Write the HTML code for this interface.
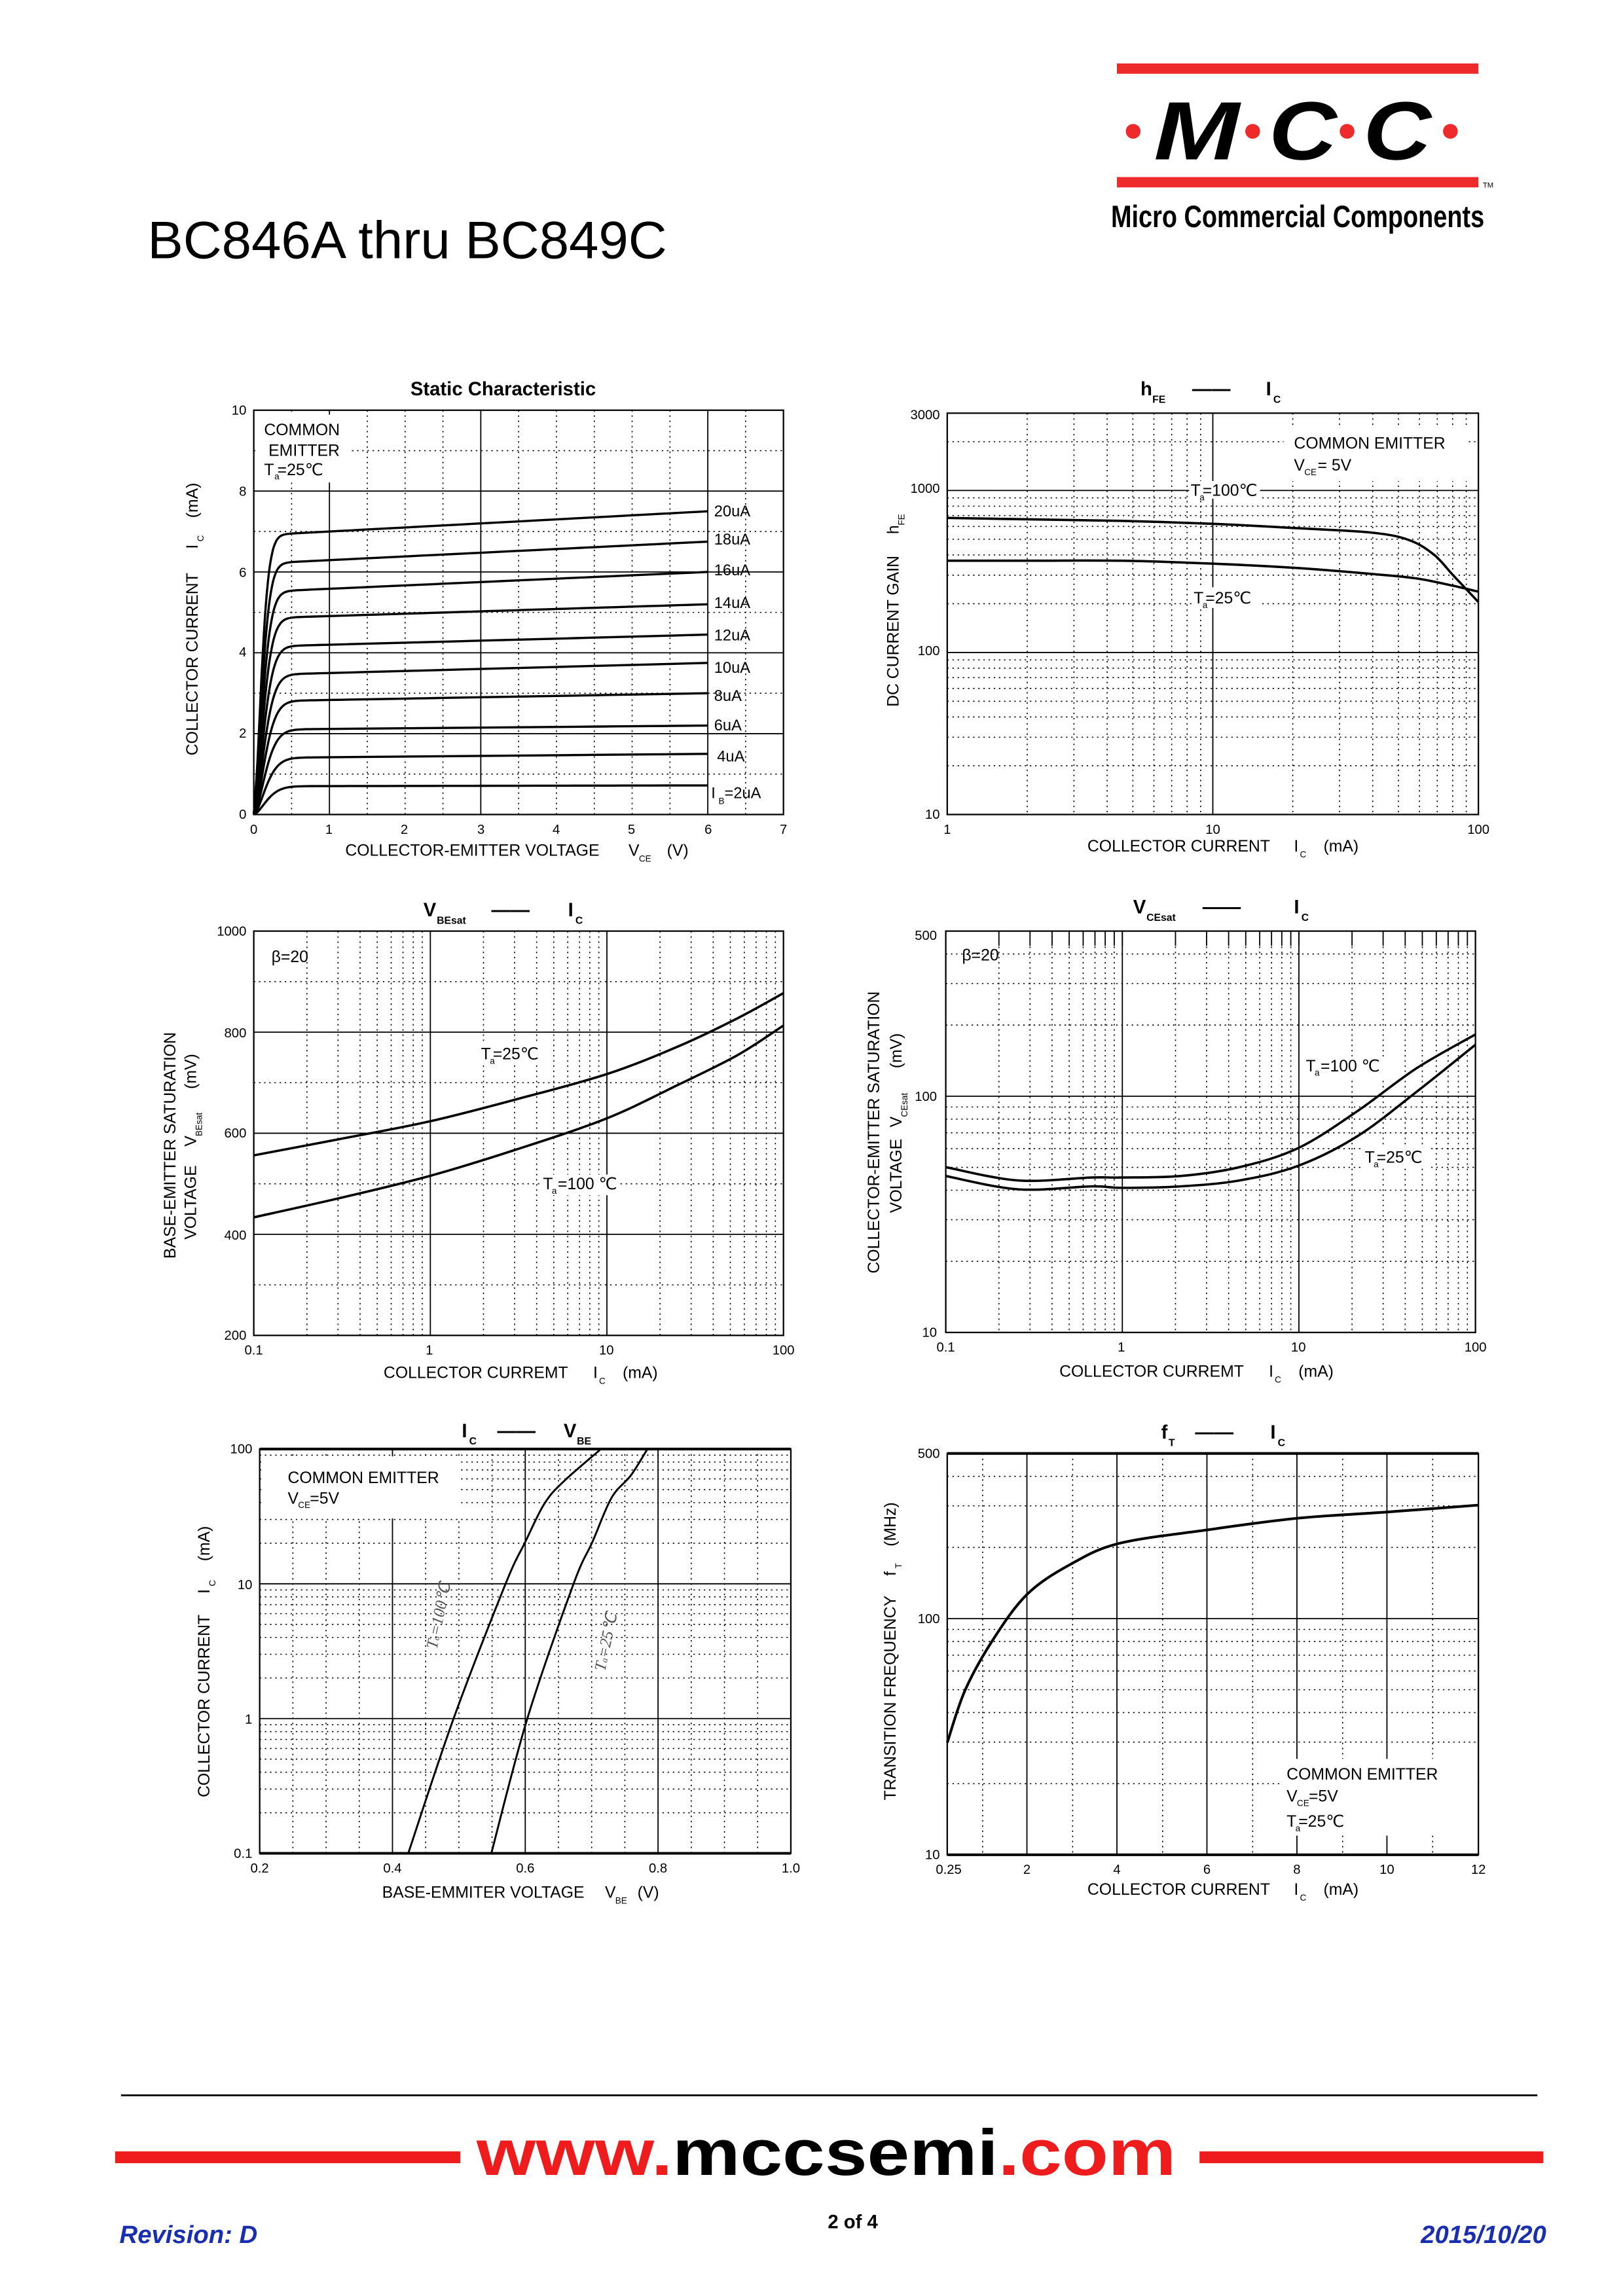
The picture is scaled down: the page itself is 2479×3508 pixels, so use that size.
<!DOCTYPE html>
<html><head><meta charset="utf-8"><style>
html,body{margin:0;padding:0;background:#fff}
svg{display:block}
text{font-family:"Liberation Sans",sans-serif;fill:#000}
.t{font-size:9px}.a{font-size:11px}.s{font-size:6px}
</style></head><body>
<svg id="svg" width="2479" height="3508" viewBox="0 0 1100 1556" preserveAspectRatio="none" xmlns="http://www.w3.org/2000/svg">
<rect width="1100" height="1556" fill="#fff"/>
<g id="g" fill="none" stroke="#000"></g>
<!-- header -->
<rect x="757" y="43" width="245" height="7" fill="#ee2a2a"/>
<rect x="757" y="120" width="245" height="7" fill="#ee2a2a"/>
<text x="1005" y="127" style="font-size:5px">TM</text>
<circle cx="768" cy="89" r="5" fill="#ee2a2a"/><circle cx="849" cy="89" r="5" fill="#ee2a2a"/>
<circle cx="913" cy="89" r="5" fill="#ee2a2a"/><circle cx="983" cy="89" r="5" fill="#ee2a2a"/>
<text x="782" y="108" textLength="58" lengthAdjust="spacingAndGlyphs" style="font-size:56px;font-weight:bold;font-style:italic">M</text>
<text x="860" y="108" textLength="46" lengthAdjust="spacingAndGlyphs" style="font-size:56px;font-weight:bold;font-style:italic">C</text>
<text x="924" y="108" textLength="46" lengthAdjust="spacingAndGlyphs" style="font-size:56px;font-weight:bold;font-style:italic">C</text>
<text x="753" y="154" textLength="253" lengthAdjust="spacingAndGlyphs" style="font-size:21px;font-weight:bold">Micro Commercial Components</text>
<text x="100" y="175" textLength="352" lengthAdjust="spacingAndGlyphs" style="font-size:36px">BC846A thru BC849C</text>

<!-- chart1 text -->
<text x="341" y="268" text-anchor="middle" style="font-size:13px;font-weight:bold">Static Characteristic</text>
<rect x="174" y="281" width="62" height="46" fill="#fff"/>
<text x="179" y="295" class="a">COMMON</text><text x="182" y="309" class="a">EMITTER</text>
<text x="179" y="322" class="a">T</text><text x="186" y="325" class="s">a</text><text x="188" y="322" class="a">=25℃</text>
<g class="t" text-anchor="end"><text x="167" y="281">10</text><text x="167" y="336">8</text><text x="167" y="391">6</text><text x="167" y="445">4</text><text x="167" y="500">2</text><text x="167" y="555">0</text></g>
<g class="t" text-anchor="middle"><text x="172" y="565">0</text><text x="223" y="565">1</text><text x="274" y="565">2</text><text x="326" y="565">3</text><text x="377" y="565">4</text><text x="428" y="565">5</text><text x="480" y="565">6</text><text x="531" y="565">7</text></g>
<text x="234" y="580" class="a">COLLECTOR-EMITTER VOLTAGE</text><text x="426" y="580" class="a">V</text><text x="433" y="584" class="s">CE</text><text x="452" y="580" class="a">(V)</text>
<text transform="translate(134,512) rotate(-90)" class="a">COLLECTOR CURRENT</text>
<text transform="translate(134,372) rotate(-90)" class="a">I</text><text transform="translate(138,367) rotate(-90)" class="s">C</text>
<text transform="translate(134,351) rotate(-90)" class="a">(mA)</text>
<g style="font-size:10.5px"><text x="484" y="350">20uA</text><text x="484" y="369">18uA</text><text x="484" y="390">16uA</text><text x="484" y="412">14uA</text><text x="484" y="434">12uA</text><text x="484" y="456">10uA</text><text x="484" y="475">8uA</text><text x="484" y="495">6uA</text><text x="486" y="516">4uA</text><text x="482" y="541">I</text><text x="487" y="545" class="s">B</text><text x="491" y="541">=2uA</text></g>

<!-- chart2 text -->
<text x="773" y="268" style="font-size:13px;font-weight:bold">h</text><text x="781" y="273" style="font-size:7px;font-weight:bold">FE</text>
<text x="808" y="268" style="font-size:13px;font-weight:bold">——</text>
<text x="858" y="268" style="font-size:13px;font-weight:bold">I</text><text x="863" y="273" style="font-size:7px;font-weight:bold">C</text>
<rect x="870" y="290" width="125" height="36" fill="#fff"/>
<text x="877" y="304" class="a">COMMON EMITTER</text>
<text x="877" y="319" class="a">V</text><text x="884" y="322" class="s">CE</text><text x="893" y="319" class="a">= 5V</text>
<rect x="806" y="326" width="48" height="12" fill="#fff"/>
<text x="807" y="336" class="a">T</text><text x="813" y="339" class="s">a</text><text x="815" y="336" class="a">=100℃</text>
<rect x="808" y="398" width="45" height="14" fill="#fff"/>
<text x="809" y="409" class="a">T</text><text x="815" y="412" class="s">a</text><text x="817" y="409" class="a">=25℃</text>
<g class="t" text-anchor="end"><text x="637" y="284">3000</text><text x="637" y="334">1000</text><text x="637" y="444">100</text><text x="637" y="555">10</text></g>
<g class="t" text-anchor="middle"><text x="642" y="565">1</text><text x="822" y="565">10</text><text x="1002" y="565">100</text></g>
<text x="737" y="577" class="a">COLLECTOR CURRENT</text><text x="877" y="577" class="a">I</text><text x="881" y="581" class="s">C</text><text x="897" y="577" class="a">(mA)</text>
<text transform="translate(609,479) rotate(-90)" class="a">DC CURRENT GAIN</text>
<text transform="translate(609,362) rotate(-90)" class="a">h</text><text transform="translate(613,356) rotate(-90)" class="s">FE</text>

<!-- chart3 text -->
<text x="287" y="621" style="font-size:13px;font-weight:bold">V</text><text x="296" y="626" style="font-size:7px;font-weight:bold">BEsat</text>
<text x="333" y="621" style="font-size:13px;font-weight:bold">——</text>
<text x="385" y="621" style="font-size:13px;font-weight:bold">I</text><text x="390" y="626" style="font-size:7px;font-weight:bold">C</text>
<text x="184" y="652" class="a">β=20</text>
<rect x="324" y="707" width="44" height="14" fill="#fff"/>
<text x="326" y="718" class="a">T</text><text x="332" y="721" class="s">a</text><text x="334" y="718" class="a">=25℃</text>
<rect x="366" y="796" width="54" height="14" fill="#fff"/>
<text x="368" y="806" class="a">T</text><text x="374" y="809" class="s">a</text><text x="378" y="806" class="a">=100 ℃</text>
<g class="t" text-anchor="end"><text x="167" y="634">1000</text><text x="167" y="703">800</text><text x="167" y="771">600</text><text x="167" y="840">400</text><text x="167" y="908">200</text></g>
<g class="t" text-anchor="middle"><text x="172" y="918">0.1</text><text x="291" y="918">1</text><text x="411" y="918">10</text><text x="531" y="918">100</text></g>
<text x="260" y="934" class="a">COLLECTOR CURREMT</text><text x="402" y="934" class="a">I</text><text x="406" y="938" class="s">C</text><text x="422" y="934" class="a">(mA)</text>
<text transform="translate(119,853) rotate(-90)" class="a">BASE-EMITTER SATURATION</text>
<text transform="translate(133,840) rotate(-90)" class="a">VOLTAGE</text>
<text transform="translate(133,777) rotate(-90)" class="a">V</text><text transform="translate(137,770) rotate(-90)" class="s">BEsat</text>
<text transform="translate(133,738) rotate(-90)" class="a">(mV)</text>

<!-- chart4 text -->
<text x="768" y="619" style="font-size:13px;font-weight:bold">V</text><text x="777" y="624" style="font-size:7px;font-weight:bold">CEsat</text>
<text x="815" y="619" style="font-size:13px;font-weight:bold">——</text>
<text x="877" y="619" style="font-size:13px;font-weight:bold">I</text><text x="882" y="624" style="font-size:7px;font-weight:bold">C</text>
<text x="652" y="651" class="a">β=20</text>
<rect x="883" y="716" width="55" height="14" fill="#fff"/>
<text x="885" y="726" class="a">T</text><text x="891" y="729" class="s">a</text><text x="895" y="726" class="a">=100 ℃</text>
<rect x="923" y="778" width="45" height="14" fill="#fff"/>
<text x="925" y="788" class="a">T</text><text x="931" y="791" class="s">a</text><text x="933" y="788" class="a">=25℃</text>
<g class="t" text-anchor="end"><text x="635" y="637">500</text><text x="635" y="746">100</text><text x="635" y="906">10</text></g>
<g class="t" text-anchor="middle"><text x="641" y="916">0.1</text><text x="760" y="916">1</text><text x="880" y="916">10</text><text x="1000" y="916">100</text></g>
<text x="718" y="933" class="a">COLLECTOR CURREMT</text><text x="860" y="933" class="a">I</text><text x="864" y="937" class="s">C</text><text x="880" y="933" class="a">(mA)</text>
<text transform="translate(596,863) rotate(-90)" class="a">COLLECTOR-EMITTER SATURATION</text>
<text transform="translate(611,822) rotate(-90)" class="a">VOLTAGE</text>
<text transform="translate(611,764) rotate(-90)" class="a">V</text><text transform="translate(615,757) rotate(-90)" class="s">CEsat</text>
<text transform="translate(611,724) rotate(-90)" class="a">(mV)</text>

<!-- chart5 text -->
<text x="313" y="974" style="font-size:13px;font-weight:bold">I</text><text x="318" y="979" style="font-size:7px;font-weight:bold">C</text>
<text x="337" y="974" style="font-size:13px;font-weight:bold">——</text>
<text x="382" y="974" style="font-size:13px;font-weight:bold">V</text><text x="391" y="979" style="font-size:7px;font-weight:bold">BE</text>
<rect x="178" y="987" width="134" height="42" fill="#fff"/>
<text x="195" y="1005" class="a">COMMON EMITTER</text>
<text x="195" y="1019" class="a">V</text><text x="202" y="1022" class="s">CE</text><text x="210" y="1019" class="a">=5V</text>
<text transform="translate(296,1118) rotate(-78)" style="font-family:'Liberation Serif',serif;font-style:italic;font-size:11px;fill:#555">T<tspan style="font-size:6px">a</tspan>=100℃</text>
<text transform="translate(410,1133) rotate(-78)" style="font-family:'Liberation Serif',serif;font-style:italic;font-size:11px;fill:#555">T<tspan style="font-size:6px">a</tspan>=25℃</text>
<g class="t" text-anchor="end"><text x="171" y="985">100</text><text x="171" y="1077">10</text><text x="171" y="1168">1</text><text x="171" y="1259">0.1</text></g>
<g class="t" text-anchor="middle"><text x="176" y="1269">0.2</text><text x="266" y="1269">0.4</text><text x="356" y="1269">0.6</text><text x="446" y="1269">0.8</text><text x="536" y="1269">1.0</text></g>
<text x="259" y="1286" class="a">BASE-EMMITER VOLTAGE</text><text x="410" y="1286" class="a">V</text><text x="417" y="1290" class="s">BE</text><text x="432" y="1286" class="a">(V)</text>
<text transform="translate(142,1218) rotate(-90)" class="a">COLLECTOR CURRENT</text>
<text transform="translate(142,1080) rotate(-90)" class="a">I</text><text transform="translate(146,1075) rotate(-90)" class="s">C</text>
<text transform="translate(142,1058) rotate(-90)" class="a">(mA)</text>

<!-- chart6 text -->
<text x="787" y="975" style="font-size:13px;font-weight:bold">f</text><text x="792" y="980" style="font-size:7px;font-weight:bold">T</text>
<text x="810" y="975" style="font-size:13px;font-weight:bold">——</text>
<text x="861" y="975" style="font-size:13px;font-weight:bold">I</text><text x="866" y="980" style="font-size:7px;font-weight:bold">C</text>
<rect x="868" y="1192" width="132" height="52" fill="#fff"/>
<text x="872" y="1206" class="a">COMMON EMITTER</text>
<text x="872" y="1221" class="a">V</text><text x="879" y="1224" class="s">CE</text><text x="887" y="1221" class="a">=5V</text>
<text x="872" y="1238" class="a">T</text><text x="878" y="1241" class="s">a</text><text x="880" y="1238" class="a">=25℃</text>
<g class="t" text-anchor="end"><text x="637" y="988">500</text><text x="637" y="1100">100</text><text x="637" y="1260">10</text></g>
<g class="t" text-anchor="middle"><text x="643" y="1270">0.25</text><text x="696" y="1270">2</text><text x="757" y="1270">4</text><text x="818" y="1270">6</text><text x="879" y="1270">8</text><text x="940" y="1270">10</text><text x="1002" y="1270">12</text></g>
<text x="737" y="1284" class="a">COLLECTOR CURRENT</text><text x="877" y="1284" class="a">I</text><text x="881" y="1288" class="s">C</text><text x="897" y="1284" class="a">(mA)</text>
<text transform="translate(607,1220) rotate(-90)" class="a">TRANSITION FREQUENCY</text>
<text transform="translate(607,1068) rotate(-90)" class="a">f</text><text transform="translate(611,1063) rotate(-90)" class="s">T</text>
<text transform="translate(607,1048) rotate(-90)" class="a">(MHz)</text>

<!-- footer -->
<line x1="82" y1="1420" x2="1042" y2="1420" stroke="#000" stroke-width="1.2"/>
<rect x="78" y="1458" width="234" height="8" fill="#ee1c1c"/>
<rect x="813" y="1458" width="233" height="8" fill="#ee1c1c"/>
<text x="323" y="1474" textLength="474" lengthAdjust="spacingAndGlyphs" style="font-size:44px;font-weight:bold"><tspan style="fill:#ee1c1c">www.</tspan>mccsemi<tspan style="fill:#ee1c1c">.com</tspan></text>
<text x="81" y="1520" style="font-size:17px;font-weight:bold;font-style:italic;fill:#1a2fb0">Revision: D</text>
<text x="578" y="1510" text-anchor="middle" style="font-size:13px;font-weight:bold">2 of 4</text>
<text x="1048" y="1520" text-anchor="end" style="font-size:17px;font-weight:bold;font-style:italic;fill:#1a2fb0">2015/10/20</text>
</svg>
<script>
var G=document.getElementById('g'),NS='http://www.w3.org/2000/svg';
function el(n,a,first){var e=document.createElementNS(NS,n);for(var k in a)e.setAttribute(k,a[k]);if(first)G.insertBefore(e,G.firstChild);else G.appendChild(e);return e;}
function L(x1,y1,x2,y2,solid,w){el('line',{x1:x1,y1:y1,x2:x2,y2:y2,'stroke-width':w||(solid?0.8:0.7),'stroke-dasharray':solid?'':'1 2.5'},true);}
function box(x1,y1,x2,y2){el('rect',{x:x1,y:y1,width:x2-x1,height:y2-y1,'stroke-width':1});}
function P(pts,w){var d='M'+pts[0][0]+','+pts[0][1];for(var i=0;i<pts.length-1;i++){var p0=pts[i-1]||pts[i],p1=pts[i],p2=pts[i+1],p3=pts[i+2]||p2;d+=' C'+(p1[0]+(p2[0]-p0[0])/6)+','+(p1[1]+(p2[1]-p0[1])/6)+' '+(p2[0]-(p3[0]-p1[0])/6)+','+(p2[1]-(p3[1]-p1[1])/6)+' '+p2[0]+','+p2[1];}el('path',{d:d,'stroke-width':w||1.6});}
function lg(v){return Math.log(v)/Math.LN10;}
(function(){var x0=172,x1=531,y0=552,y1=278,sx=(x1-x0)/7,sy=(y0-y1)/10;
for(var v=0.5;v<7;v+=0.5){var s=(v==1||v==3||v==6);L(x0+v*sx,y1,x0+v*sx,y0,s);}
for(var i=1;i<10;i++){L(x0,y0-i*sy,x1,y0-i*sy,i%2==0);}
box(x0,y1,x1,y0);
var a=[0.7,1.4,2.1,2.8,3.45,4.15,4.85,5.5,6.2,6.9],b=[0.72,1.5,2.2,3.0,3.75,4.45,5.2,6.0,6.75,7.5];
for(var k=0;k<10;k++){var pts=[],tau=0.22-k*0.01;for(var V=0;V<=6.001;V+=(V<1?0.05:0.25)){var I=(a[k]+(b[k]-a[k])*V/6)*(1-Math.exp(-Math.pow(V/tau,1.6)));pts.push([x0+V*sx,y0-I*sy]);}P(pts,1.5);}
})();
(function(){var x0=642,x1=1002,y0=552,y1=280;function X(v){return x0+lg(v)/2*(x1-x0);}function Y(v){return y0-(lg(v)-1)/lg(300)*(y0-y1);}
[2,3,4,5,6,7,8,9,10,20,30,40,50,60,70,80,90].forEach(function(v){L(X(v),y1,X(v),y0,v==10);});
[20,30,40,50,60,70,80,90,100,200,300,400,500,600,700,800,900,1000,2000].forEach(function(v){L(x0,Y(v),x1,Y(v),v==100||v==1000);});
box(x0,y1,x1,y0);
P([[642,351],[700,352],[760,353],[822,355],[880,358],[930,361],[955,366],[972,376],[985,390],[1002,408]],1.6);
P([[642,380],[700,380],[760,380],[822,382],[880,385],[930,389],[960,392],[985,397],[1002,401]],1.6);
})();
(function(){var x0=172,x1=531,y0=905,y1=631;function X(v){return x0+(lg(v)+1)/3*(x1-x0);}function Y(v){return y0-(v-200)/800*(y0-y1);}
[0.2,0.3,0.4,0.5,0.6,0.7,0.8,0.9,1,2,3,4,5,6,7,8,9,10,20,30,40,50,60,70,80,90].forEach(function(v){L(X(v),y1,X(v),y0,v==1||v==10);});
[300,400,500,600,700,800,900].forEach(function(v){L(x0,Y(v),x1,Y(v),v%200==0);});
box(x0,y1,x1,y0);
P([[172,783],[230,772],[291,760],[350,745],[411,728],[460,709],[500,690],[531,673]],1.6);
P([[172,825],[230,812],[291,797],[350,779],[411,758],[460,735],[500,715],[531,695]],1.6);
})();
(function(){var x0=641,x1=1000,y0=903,y1=631;function X(v){return x0+(lg(v)+1)/3*(x1-x0);}function Y(v){return y0-(lg(v)-1)/lg(50)*(y0-y1);}
[0.2,0.3,0.4,0.5,0.6,0.7,0.8,0.9,1,2,3,4,5,6,7,8,9,10,20,30,40,50,60,70,80,90].forEach(function(v){L(X(v),y1,X(v),y0,v==1||v==10);L(X(v),y1,X(v),y1+10,true);});
[20,30,40,50,60,70,80,90,100,200,300,400].forEach(function(v){L(x0,Y(v),x1,Y(v),v==100);});
box(x0,y1,x1,y0);
P([[641,791],[690,800],[740,798],[760,798],[800,797],[840,791],[880,778],[920,753],[960,724],[1000,701]],1.6);
P([[641,797],[690,806],[740,804],[760,805],[800,804],[840,800],[880,790],[920,770],[960,740],[1000,708]],1.6);
})();
(function(){var x0=176,x1=536,y0=1256,y1=982;function X(v){return x0+(v-0.2)/0.8*(x1-x0);}function Y(v){return y0-(lg(v)+1)/3*(y0-y1);}
for(var v=0.25;v<0.99;v+=0.05){var s=Math.abs(v-0.4)<0.01||Math.abs(v-0.6)<0.01||Math.abs(v-0.8)<0.01;L(X(v),y1,X(v),y0,s);}
[0.2,0.3,0.4,0.5,0.6,0.7,0.8,0.9,1,2,3,4,5,6,7,8,9,10,20,30,40,50,60,70,80,90].forEach(function(v){L(x0,Y(v),x1,Y(v),v==1||v==10);});
box(x0,y1,x1,y0);L(x0,y1,x1,y1,true,1.8);L(x0,y0,x1,y0,true,1.8);
P([[276.7,1256],[307.3,1165],[342.4,1074],[356,1045],[369,1019],[382,1004],[406.7,982.5]],1.3);
P([[333,1256],[357.3,1165],[388.5,1074],[401.5,1045],[414.5,1015],[427.5,1000],[438.5,982.5]],1.3);
})();
(function(){var x0=642,x1=1002,y0=1257,y1=985;function Y(v){return y0-(lg(v)-1)/lg(50)*(y0-y1);}
[666,696,727,757,788,818,849,879,910,940,971].forEach(function(x,i){L(x,y1,x,y0,i%2==1);});
[20,30,40,50,60,70,80,90,100,200,300,400].forEach(function(v){L(x0,Y(v),x1,Y(v),v==100);});
box(x0,y1,x1,y0);L(x0,y1,x1,y1,true,1.8);L(x0,y0,x1,y0,true,1.8);
P([[642,1181],[654.3,1145],[673.8,1110],[696.6,1080],[725.8,1060],[758.3,1046],[816.8,1037],[878.5,1029],[940,1024.7],[1002,1020]],1.8);
})();
</script>
</body></html>
